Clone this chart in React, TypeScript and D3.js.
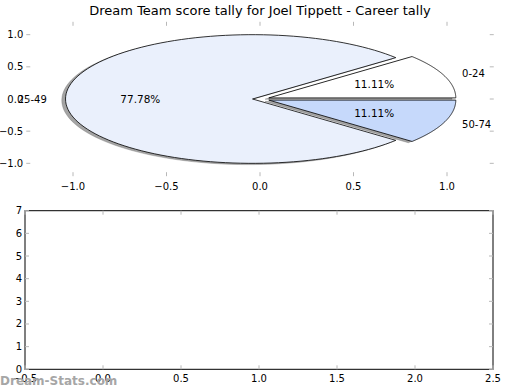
import React from "react";
import * as d3 from "d3";

const title = "Dream Team score tally for Joel Tippett - Career tally";
const categories = ["0-24", "25-49", "50-74"];
const counts = [1, 7, 1];
const explode = [0.05, 0.04, 0.05];
const sliceColors = ["#ffffff", "#eaf0fc", "#c6d9fb"];
const pieTicks = [-1.0, -0.5, 0.0, 0.5, 1.0];
const barXTicks = [-0.5, 0.0, 0.5, 1.0, 1.5, 2.0, 2.5];
const barYTicks = [0, 1, 2, 3, 4, 5, 6, 7];

const FONT = "DejaVu Sans, sans-serif";
const TICK = "#b8b8b8";

function fmt(v: number, d: number) {
  const s = v.toFixed(d);
  return s.replace("-", "\u2212");
}

export default function App() {
  // top (pie) axes
  const px = d3.scaleLinear().domain([-1.25, 1.25]).range([26.25, 493.75]);
  const py = d3.scaleLinear().domain([-1.2, 1.2]).range([176.2, 21.8]);
  // bottom axes
  const bx = d3.scaleLinear().domain([-0.5, 2.5]).range([25, 493]);
  const by = d3.scaleLinear().domain([0, 7]).range([369.3, 210.7]);

  const total = d3.sum(counts);
  const arcs = d3.pie<number>().sort(null).value((d) => d)(counts);
  const line = d3
    .line<[number, number]>()
    .x((d) => px(d[0]))
    .y((d) => py(d[1]));

  const slices = arcs.map((a, i) => {
    const t0 = a.startAngle;
    const t1 = a.endAngle;
    const mid = (t0 + t1) / 2;
    const ox = explode[i] * Math.cos(mid);
    const oy = explode[i] * Math.sin(mid);
    const pts: [number, number][] = [[ox, oy]];
    const n = 120;
    for (let k = 0; k <= n; k++) {
      const t = t0 + ((t1 - t0) * k) / n;
      pts.push([ox + Math.cos(t), oy + Math.sin(t)]);
    }
    const shadowPts = pts.map((p) => [p[0] - 0.02, p[1] - 0.02] as [number, number]);
    return {
      i,
      mid,
      ox,
      oy,
      d: line(pts) + "Z",
      sd: line(shadowPts) + "Z",
      pct: (100 * counts[i]) / total,
    };
  });

  const tl = 4;

  return (
    <svg
      width={520}
      height={390}
      style={{ position: "absolute", left: 0, top: 0, background: "#fff" }}
      fontFamily={FONT}
    >
      <rect x={0} y={0} width={520} height={390} fill="#fff" />
      <text x={260} y={14.5} fontSize={13} textAnchor="middle" fill="#000">
        {title}
      </text>

      {/* pie shadows */}
      {slices.map((s) => (
        <path
          key={"sh" + s.i}
          d={s.sd}
          fill="#4a4a4a"
          fillOpacity={0.5}
          stroke="#666"
          strokeOpacity={0.4}
          strokeWidth={0.8}
        />
      ))}
      {slices.map((s) => (
        <path
          key={"sl" + s.i}
          d={s.d}
          fill={sliceColors[s.i]}
          stroke="#000"
          strokeWidth={0.8}
          strokeLinejoin="miter"
        />
      ))}
      {slices.map((s) => {
        const lx = s.ox + 1.1 * Math.cos(s.mid);
        const ly = s.oy + 1.1 * Math.sin(s.mid);
        const qx = s.ox + 0.6 * Math.cos(s.mid);
        const qy = s.oy + 0.6 * Math.sin(s.mid);
        return (
          <g key={"lb" + s.i}>
            <text
              x={px(lx)}
              y={py(ly)}
              dy="0.35em"
              fontSize={10}
              textAnchor={lx > 0 ? "start" : "end"}
            >
              {categories[s.i]}
            </text>
            <text x={px(qx)} y={py(qy)} dy="0.35em" fontSize={10.5} textAnchor="middle">
              {s.pct.toFixed(2) + "%"}
            </text>
          </g>
        );
      })}

      {/* pie axes ticks */}
      {pieTicks.map((t) => (
        <g key={"pxt" + t}>
          <line x1={px(t)} x2={px(t)} y1={py(-1.2)} y2={py(-1.2) - tl} stroke={TICK} />
          <line x1={px(t)} x2={px(t)} y1={py(1.2)} y2={py(1.2) + tl} stroke={TICK} />
          <text x={px(t)} y={py(-1.2) + 10} dy="0.35em" fontSize={10} textAnchor="middle">
            {fmt(t, 1)}
          </text>
          <line x1={px(-1.25)} x2={px(-1.25) + tl} y1={py(t)} y2={py(t)} stroke={TICK} />
          <line x1={px(1.25)} x2={px(1.25) - tl} y1={py(t)} y2={py(t)} stroke={TICK} />
          <text x={px(-1.25) - 3} y={py(t)} dy="0.35em" fontSize={10} textAnchor="end">
            {fmt(t, 1)}
          </text>
        </g>
      ))}

      {/* bottom axes */}
      <rect
        x={bx(-0.5)}
        y={by(7)}
        width={bx(2.5) - bx(-0.5)}
        height={by(0) - by(7)}
        fill="none"
        stroke="#000"
        strokeWidth={1}
      />
      {barXTicks.map((t) => (
        <g key={"bxt" + t}>
          <line x1={bx(t)} x2={bx(t)} y1={by(0)} y2={by(0) - tl} stroke={TICK} />
          <line x1={bx(t)} x2={bx(t)} y1={by(7)} y2={by(7) + tl} stroke={TICK} />
          <text x={bx(t)} y={by(0) + 9} dy="0.35em" fontSize={10} textAnchor="middle">
            {fmt(t, 1)}
          </text>
        </g>
      ))}
      {barYTicks.map((t) => (
        <g key={"byt" + t}>
          <line x1={bx(-0.5)} x2={bx(-0.5) + tl} y1={by(t)} y2={by(t)} stroke={TICK} />
          <line x1={bx(2.5)} x2={bx(2.5) - tl} y1={by(t)} y2={by(t)} stroke={TICK} />
          <text x={bx(-0.5) - 3} y={by(t)} dy="0.35em" fontSize={10} textAnchor="end">
            {String(t)}
          </text>
        </g>
      ))}

      <text x={0} y={385} fontSize={12} fill="#a6a6a6" fontWeight="bold">
        Dream-Stats.com
      </text>
    </svg>
  );
}
